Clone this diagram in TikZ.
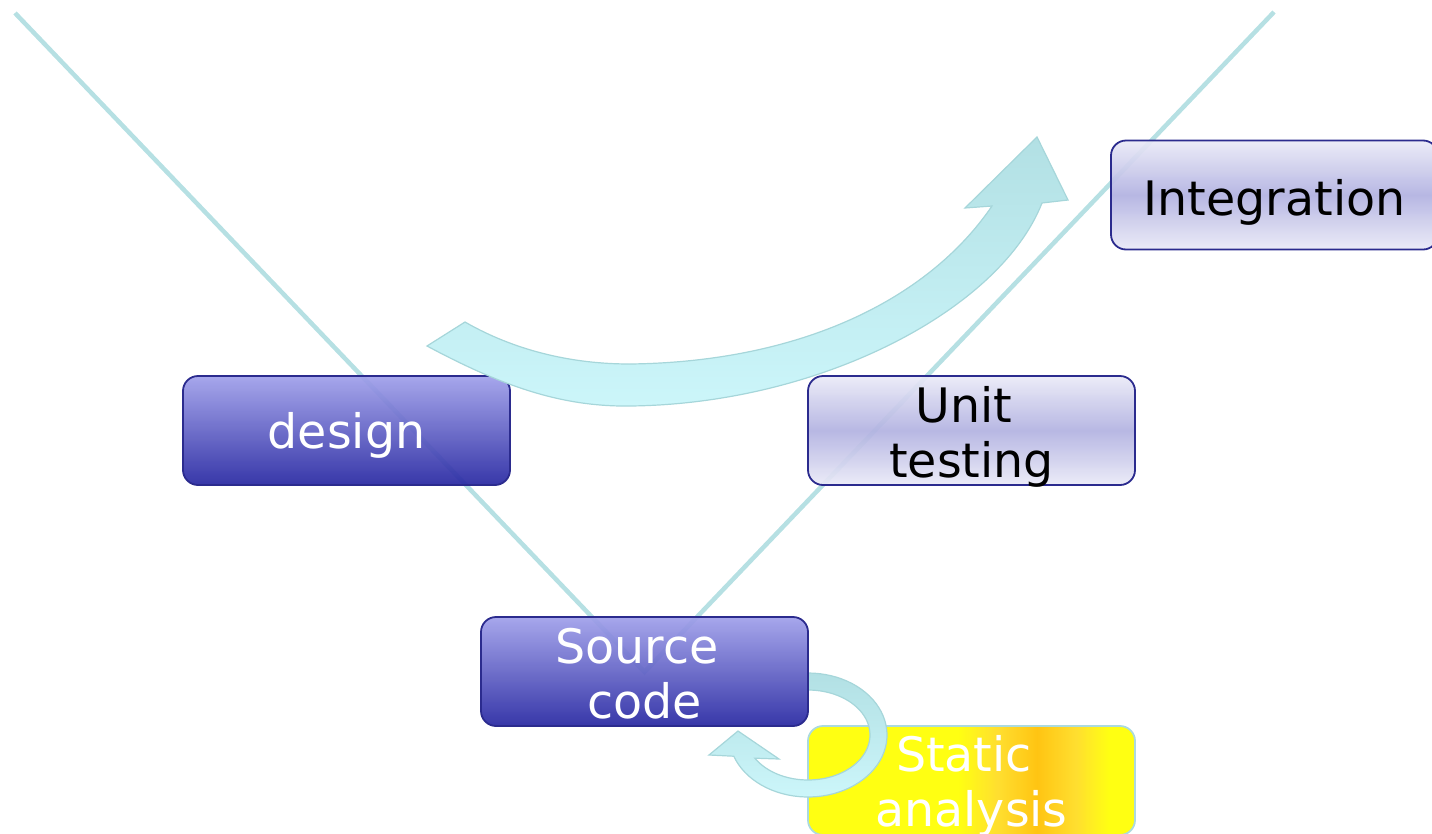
\documentclass[tikz,border=0pt]{standalone}
\usepackage{fontspec}
\setmainfont{DejaVu Sans}

% palette
\definecolor{vline}{HTML}{B6E0E3}
\definecolor{boxedge}{HTML}{2B2B8E}
\definecolor{bluetop}{HTML}{A0A0EA}
\definecolor{bluebot}{HTML}{2828A2}
\definecolor{paletop}{HTML}{EAEAF7}
\definecolor{palemid}{HTML}{B2B2E1}
\definecolor{flowtop}{HTML}{B2E0E4}
\definecolor{flowbot}{HTML}{CCF6FA}
\definecolor{flowedge}{HTML}{A6D6DA}
\definecolor{sunedge}{HTML}{ACDADE}
\definecolor{sunA}{HTML}{FFDC20}
\definecolor{sunB}{HTML}{FFC000}

% yellow fill with a warm band towards the right
\pgfdeclarehorizontalshading{sunshade}{100bp}{color(0bp)=(yellow); color(48bp)=(yellow);
  color(54bp)=(sunA); color(60bp)=(sunB); color(66bp)=(sunA); color(71bp)=(yellow); color(100bp)=(yellow)}

\tikzset{
  stage/.style={rounded corners=15pt, minimum width=327pt, minimum height=109pt,
                inner sep=0pt, line width=1.8pt, fill opacity=0.93},
  darkstage/.style={stage, draw=boxedge, top color=bluetop, bottom color=bluebot},
  lightstage/.style={stage, draw=boxedge, top color=paletop, bottom color=paletop, middle color=palemid},
  sunstage/.style={stage, draw=sunedge, shading=sunshade},
  lbl/.style={font=\fontsize{47.5}{55}\selectfont, inner sep=0pt, anchor=base},
  vee/.style={draw=vline, line width=4.5pt},
  flow/.style={draw=flowedge, line width=1.2pt, top color=flowtop, bottom color=flowbot},
}

\begin{document}
\begin{tikzpicture}[x=1pt, y=-1pt]
\useasboundingbox (0,0) rectangle (1432,833);

% the V of the development cycle
\coordinate (vl) at (15,13);
\coordinate (vr) at (1274,12);
\coordinate (apex) at (644.5,672);
\draw[vee] (vl) -- (apex) -- (vr);

% stages
\node[darkstage]  (design) at (346.5,430.5) {};
\node[lightstage] (unit)   at (971.5,430.5) {};
\node[lightstage] (integ)  at (1274.5,195) {};
\node[sunstage]   (static) at (971.5,780.5) {};

% loop between source code and static analysis
\path[flow] plot[domain=-90:160, samples=60, variable=\t] ({808+79*cos(\t)},{735+62*sin(\t)})
  -- (709,755) -- (738,731) -- (779,759)
  -- plot[domain=149:-90, samples=60, variable=\t] ({808+62*cos(\t)},{735+45*sin(\t)}) -- cycle;

\node[darkstage]  (source) at (644.5,671.5) {};

% sweeping arrow from design up to integration
\path[flow] (427,346) .. controls (500,385) and (560,407) .. (630,406)
  .. controls (820,404) and (1000,310) .. (1042,203)
  -- (1068,200) -- (1037,137) -- (965,208) -- (992,206)
  .. controls (928,300) and (800,362) .. (630,364)
  .. controls (560,364) and (505,345) .. (465,322) -- cycle;

% labels
\node[lbl, text=white] (design-t) at (346.5,448) {design};
\node[lbl] (unit-t1) at (971.5,422) {Unit\kern0.318em};
\node[lbl] (unit-t2) at (971.5,477) {testing};
\node[lbl] (integ-t) at (1274.5,215) {Integration};
\node[lbl, text=white] (source-t1) at (644.5,663) {Source\kern0.318em};
\node[lbl, text=white] (source-t2) at (644.5,718) {code};
\node[lbl, text=white] (static-t1) at (971.5,771) {Static\kern0.318em};
\node[lbl, text=white] (static-t2) at (971.5,826) {analysis};
\end{tikzpicture}
\end{document}
